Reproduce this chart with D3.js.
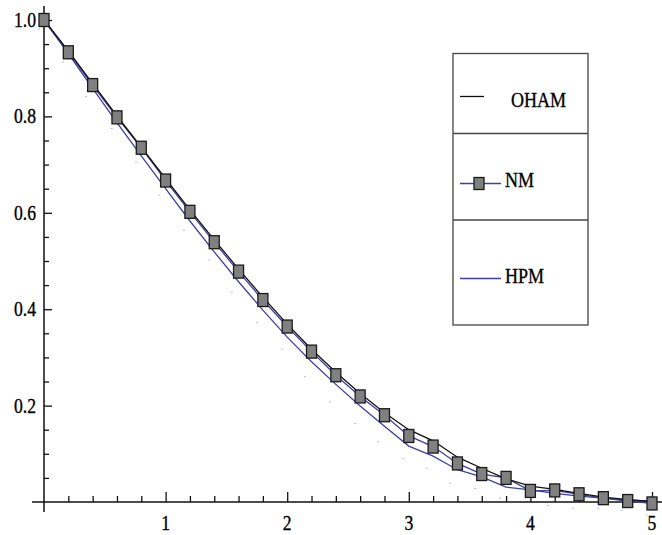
<!DOCTYPE html>
<html lang="en">
<head>
<meta charset="UTF-8">
<title>OHAM / NM / HPM</title>
<script src="https://d3js.org/d3.v7.min.js"></script>
<style>
  body { margin: 0; background: #fff; }
  svg { display: block; }
  text { font-family: "Liberation Serif", "Times New Roman", serif; fill: #000; stroke: #000; stroke-width: 0.35px; }
</style>
</head>
<body>
<svg width="662" height="535"></svg>
<script>
// data
var xs = [0, 0.2, 0.4, 0.6, 0.8, 1, 1.2, 1.4, 1.6, 1.8, 2, 2.2, 2.4, 2.6, 2.8,
          3, 3.2, 3.4, 3.6, 3.8, 4, 4.2, 4.4, 4.6, 4.8, 5];
var oham = [1.000, 0.936, 0.868, 0.801, 0.736, 0.671, 0.606, 0.544, 0.483, 0.425, 0.369, 0.317, 0.269,
            0.225, 0.185, 0.150, 0.127, 0.093, 0.070, 0.048, 0.033, 0.026, 0.018, 0.010, 0.005, 0.001];
var nm   = [1.000, 0.933, 0.865, 0.798, 0.735, 0.667, 0.602, 0.539, 0.478, 0.419, 0.364, 0.312, 0.263,
            0.219, 0.180, 0.137, 0.115, 0.080, 0.058, 0.050, 0.023, 0.024, 0.016, 0.008, 0.002, -0.003];
var hpm  = [1.000, 0.930, 0.858, 0.787, 0.718, 0.650, 0.583, 0.519, 0.457, 0.398, 0.342, 0.291, 0.244,
            0.199, 0.157, 0.116, 0.095, 0.067, 0.052, 0.031, 0.025, 0.018, 0.012, 0.008, 0.004, 0.002];
// faint stray dots that sit under the curves
var dotX = [-0.039, 0.159, 0.345, 0.557, 0.757, 0.948, 1.151, 1.359, 1.544, 1.752, 1.957, 2.146, 2.352,
            2.558, 2.749, 2.955, 3.147, 3.339, 3.544, 3.750, 3.997, 4.145, 4.350, 4.556, 4.751, 4.956];
var dotY = [0.981, 0.913, 0.841, 0.775, 0.705, 0.637, 0.564, 0.502, 0.435, 0.373, 0.317, 0.260, 0.208,
            0.163, 0.125, 0.090, 0.070, 0.039, 0.028, 0.008, -0.035, -0.007, -0.013, -0.013, -0.017, -0.027];

var xTicks = [1, 2, 3, 4, 5];
var xLabels = ["1", "2", "3", "4", "5"];
var yTicks = [0.2, 0.4, 0.6, 0.8, 1.0];
var yLabels = ["0.2", "0.4", "0.6", "0.8", "1.0"];
var legendNames = ["OHAM", "NM", "HPM"];

var blue = "#3f3fa0";

var svg = d3.select("svg");

var x = d3.scaleLinear().domain([0, 5]).range([44, 652]);
var y = d3.scaleLinear().domain([0, 1]).range([502, 20]);

// minor tick values
var xMinor = d3.range(1, 26).map(function(i) { return i * 0.2; })
  .filter(function(v) { return Math.abs(v - Math.round(v)) > 1e-6; });
var yMinor = d3.range(1, 21).map(function(i) { return i * 0.05; })
  .filter(function(v) { return Math.abs(v * 5 - Math.round(v * 5)) > 1e-6; });

// y axis: ticks point right, labels on the left
var yAx = svg.append("g").attr("transform", "translate(" + x(0) + ",0)");
yAx.append("g").call(d3.axisRight(y).tickValues(yMinor).tickSize(5).tickFormat(""));
yAx.append("g").call(d3.axisRight(y).tickValues(yTicks).tickSize(8).tickFormat(""));
yAx.selectAll(".domain").remove();
yAx.selectAll("line").attr("stroke", "#111").attr("stroke-width", 1.3);
yAx.append("line").attr("x1", 0).attr("x2", 0).attr("y1", 6).attr("y2", 512)
   .attr("stroke", "#111").attr("stroke-width", 1.5);

// x axis: ticks point up, labels below
var xAx = svg.append("g").attr("transform", "translate(0," + y(0) + ")");
xAx.append("g").call(d3.axisTop(x).tickValues(xMinor).tickSize(6).tickFormat(""));
xAx.append("g").call(d3.axisTop(x).tickValues(xTicks).tickSize(10).tickFormat(""));
xAx.selectAll(".domain").remove();
xAx.selectAll("line").attr("stroke", "#111").attr("stroke-width", 1.3);
xAx.append("line").attr("x1", 32).attr("x2", 662).attr("y1", 0).attr("y2", 0)
   .attr("stroke", "#111").attr("stroke-width", 1.5);

svg.selectAll(".ylab").data(yTicks).enter().append("text")
   .attr("class", "ylab")
   .attr("transform", function(d) { return "translate(36," + (y(d) + 7) + ") scale(0.84,1)"; })
   .attr("text-anchor", "end")
   .attr("font-size", 21)
   .text(function(d, i) { return yLabels[i]; });

svg.selectAll(".xlab").data(xTicks).enter().append("text")
   .attr("class", "xlab")
   .attr("transform", function(d) { return "translate(" + x(d) + ",530) scale(0.84,1)"; })
   .attr("text-anchor", "middle")
   .attr("font-size", 21)
   .text(function(d, i) { return xLabels[i]; });

// curves
function lineOf(vals) {
  return d3.line()
    .x(function(d, i) { return x(xs[i]); })
    .y(function(d) { return y(d); })(vals);
}

svg.append("g").selectAll("rect").data(dotX).enter().append("rect")
   .attr("x", function(d) { return x(d) - 1; })
   .attr("y", function(d, i) { return y(dotY[i]) - 0.5; })
   .attr("width", 2).attr("height", 1)
   .attr("fill", "#b8b8d8");

svg.append("path").attr("d", lineOf(hpm))
   .attr("fill", "none").attr("stroke", blue).attr("stroke-width", 1.3);
svg.append("path").attr("d", lineOf(nm))
   .attr("fill", "none").attr("stroke", blue).attr("stroke-width", 1.3);
svg.append("path").attr("d", lineOf(oham))
   .attr("fill", "none").attr("stroke", "#111").attr("stroke-width", 1.3);

svg.append("g").selectAll("rect").data(nm).enter().append("rect")
   .attr("x", function(d, i) { return x(xs[i]) - 5; })
   .attr("y", function(d) { return y(d) - 6.5; })
   .attr("width", 10).attr("height", 13)
   .attr("fill", "#808080").attr("stroke", "#1a1a1a").attr("stroke-width", 1.3);

// legend box
var lg = svg.append("g");
lg.append("rect").attr("x", 453).attr("y", 53.5).attr("width", 135).attr("height", 271.5)
  .attr("fill", "#fff").attr("stroke", "#444").attr("stroke-width", 1.3);
[133.5, 220].forEach(function(yy) {
  lg.append("line").attr("x1", 453).attr("x2", 588).attr("y1", yy).attr("y2", yy)
    .attr("stroke", "#444").attr("stroke-width", 1.3);
});

lg.append("line").attr("x1", 460).attr("x2", 484).attr("y1", 96.5).attr("y2", 96.5)
  .attr("stroke", "#111").attr("stroke-width", 1.3);
lg.append("line").attr("x1", 460).attr("x2", 501).attr("y1", 183.5).attr("y2", 183.5)
  .attr("stroke", blue).attr("stroke-width", 1.3);
lg.append("rect").attr("x", 474).attr("y", 177.5).attr("width", 10).attr("height", 12)
  .attr("fill", "#808080").attr("stroke", "#1a1a1a").attr("stroke-width", 1.3);
lg.append("line").attr("x1", 460).attr("x2", 501).attr("y1", 278.5).attr("y2", 278.5)
  .attr("stroke", blue).attr("stroke-width", 1.3);

var legPos = [[511, 107], [505, 187], [505, 283]];
lg.selectAll("text").data(legendNames).enter().append("text")
  .attr("transform", function(d, i) { return "translate(" + legPos[i][0] + "," + legPos[i][1] + ") scale(0.82,1)"; })
  .attr("font-size", 22)
  .text(function(d) { return d; });
</script>
</body>
</html>
